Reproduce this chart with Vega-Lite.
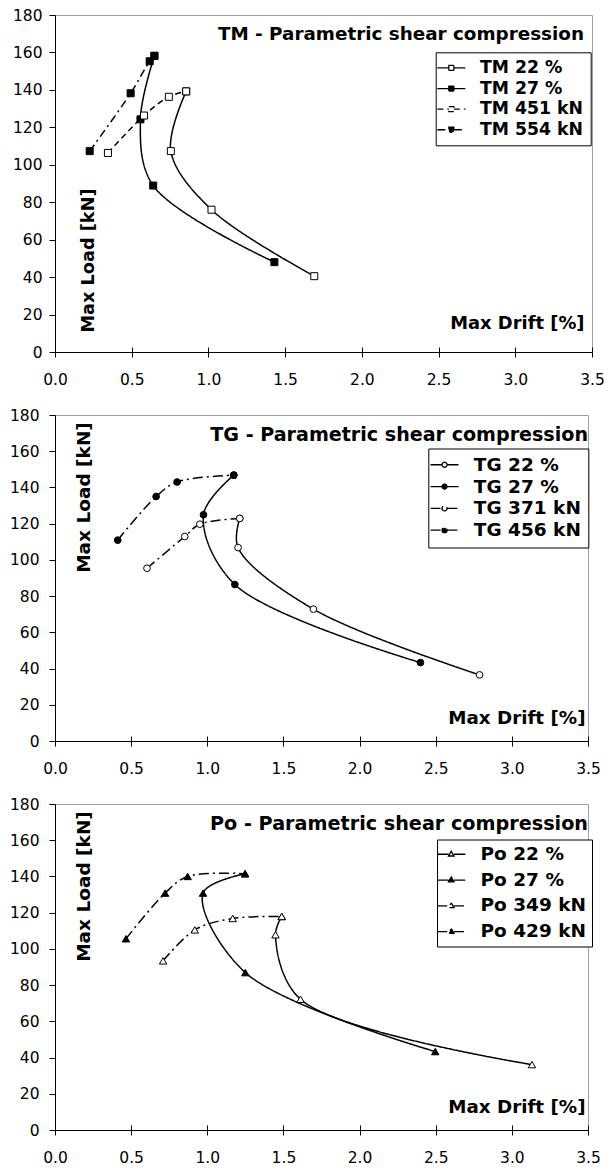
{
  "$schema": "https://vega.github.io/schema/vega-lite/v6.json",
  "background": "white",
  "padding": {"left": 8, "top": 7, "right": 5, "bottom": 5},
  "spacing": 18,
  "align": "none",
  "resolve": {
    "scale": {"fill": "independent", "strokeDash": "independent"},
    "legend": {"fill": "independent", "strokeDash": "independent"}
  },
  "config": {
    "font": "DejaVu Sans",
    "view": {"stroke": "#a0a0a0", "strokeWidth": 1},
    "axis": {
      "grid": false, "labelFont": "DejaVu Sans", "labelFontSize": 15.5, "labelColor": "black",
      "domainColor": "black", "tickColor": "black", "domainWidth": 1, "tickWidth": 1,
      "labelFlush": false, "labelOverlap": false,
      "titleFont": "DejaVu Sans", "titleFontWeight": "bold", "titleColor": "black"
    },
    "legend": {
      "labelFont": "DejaVu Sans", "labelFontWeight": "bold", "labelColor": "black", "labelLimit": 300,
      "strokeColor": "black", "fillColor": "white", "padding": 7,
      "symbolStrokeColor": "black", "symbolStrokeWidth": 1.3, "symbolSize": 100, "symbolOpacity": 1,
      "labelOffset": 20
    },
    "title": {"font": "DejaVu Sans", "fontWeight": "bold", "color": "black", "fontSize": 18}
  },
  "datasets": {
    "tm": [
      {"series": "TM 22 %", "i": 0, "drift": 1.69, "load": 40.5},
      {"series": "TM 22 %", "i": 1, "drift": 1.02, "load": 76},
      {"series": "TM 22 %", "i": 2, "drift": 0.755, "load": 107.3},
      {"series": "TM 22 %", "i": 3, "drift": 0.855, "load": 139.2},
      {"series": "TM 27 %", "i": 0, "drift": 1.43, "load": 48},
      {"series": "TM 27 %", "i": 1, "drift": 0.64, "load": 88.9},
      {"series": "TM 27 %", "i": 2, "drift": 0.557, "load": 124.3},
      {"series": "TM 27 %", "i": 3, "drift": 0.648, "load": 158.2},
      {"series": "TM 451 kN", "i": 0, "drift": 0.345, "load": 106.3},
      {"series": "TM 451 kN", "i": 1, "drift": 0.58, "load": 126.3},
      {"series": "TM 451 kN", "i": 2, "drift": 0.742, "load": 136.3},
      {"series": "TM 451 kN", "i": 3, "drift": 0.855, "load": 139.2},
      {"series": "TM 554 kN", "i": 0, "drift": 0.226, "load": 107.3},
      {"series": "TM 554 kN", "i": 1, "drift": 0.493, "load": 138.2},
      {"series": "TM 554 kN", "i": 2, "drift": 0.617, "load": 155.3},
      {"series": "TM 554 kN", "i": 3, "drift": 0.648, "load": 158.2}
    ],
    "tg": [
      {"series": "TG 22 %", "i": 0, "drift": 2.788, "load": 36.5},
      {"series": "TG 22 %", "i": 1, "drift": 1.697, "load": 72.8},
      {"series": "TG 22 %", "i": 2, "drift": 1.202, "load": 106.8},
      {"series": "TG 22 %", "i": 3, "drift": 1.213, "load": 122.9},
      {"series": "TG 27 %", "i": 0, "drift": 2.4, "load": 43.3},
      {"series": "TG 27 %", "i": 1, "drift": 1.181, "load": 86.4},
      {"series": "TG 27 %", "i": 2, "drift": 0.975, "load": 124.9},
      {"series": "TG 27 %", "i": 3, "drift": 1.174, "load": 146.8},
      {"series": "TG 371 kN", "i": 0, "drift": 0.604, "load": 95.4},
      {"series": "TG 371 kN", "i": 1, "drift": 0.852, "load": 112.9},
      {"series": "TG 371 kN", "i": 2, "drift": 0.951, "load": 119.7},
      {"series": "TG 371 kN", "i": 3, "drift": 1.213, "load": 122.9},
      {"series": "TG 456 kN", "i": 0, "drift": 0.412, "load": 110.9},
      {"series": "TG 456 kN", "i": 1, "drift": 0.664, "load": 135.0},
      {"series": "TG 456 kN", "i": 2, "drift": 0.802, "load": 143.0},
      {"series": "TG 456 kN", "i": 3, "drift": 1.174, "load": 146.8}
    ],
    "po": [
      {"series": "Po 22 %", "i": 0, "drift": 3.132, "load": 36.1},
      {"series": "Po 22 %", "i": 1, "drift": 1.612, "load": 72.2},
      {"series": "Po 22 %", "i": 2, "drift": 1.448, "load": 107.8},
      {"series": "Po 22 %", "i": 3, "drift": 1.489, "load": 117.9},
      {"series": "Po 27 %", "i": 0, "drift": 2.497, "load": 43.3},
      {"series": "Po 27 %", "i": 1, "drift": 1.25, "load": 86.9},
      {"series": "Po 27 %", "i": 2, "drift": 0.972, "load": 130.8},
      {"series": "Po 27 %", "i": 3, "drift": 1.248, "load": 141.5},
      {"series": "Po 349 kN", "i": 0, "drift": 0.71, "load": 93.4},
      {"series": "Po 349 kN", "i": 1, "drift": 0.918, "load": 110.5},
      {"series": "Po 349 kN", "i": 2, "drift": 1.167, "load": 116.8},
      {"series": "Po 349 kN", "i": 3, "drift": 1.489, "load": 117.9},
      {"series": "Po 429 kN", "i": 0, "drift": 0.466, "load": 105.6},
      {"series": "Po 429 kN", "i": 1, "drift": 0.723, "load": 130.8},
      {"series": "Po 429 kN", "i": 2, "drift": 0.871, "load": 140.0},
      {"series": "Po 429 kN", "i": 3, "drift": 1.248, "load": 141.5}
    ]
  },
  "vconcat": [
    {
      "width": 537, "height": 337,
      "data": {"name": "tm"},
      "title": {"text": "TM - Parametric shear compression", "anchor": "end", "frame": "group", "offset": -36, "dx": -8, "fontSize": 18.35},
      "resolve": {"axis": {"x": "independent"}},
      "layer": [
        {
          "mark": {"type": "line", "interpolate": "catmull-rom", "color": "black", "strokeWidth": 1.5},
          "encoding": {
            "x": {"field": "drift", "type": "quantitative", "scale": {"domain": [0, 3.5], "nice": false},
              "axis": {"values": [0, 0.5, 1, 1.5, 2, 2.5, 3, 3.5], "tickCount": 20, "format": ".1f", "tickSize": 5, "labelPadding": 15.5, "labelOverlap": false,
                "title": "Max Drift [%]", "titleFontSize": 17.9, "titleX": 529, "titleY": -24, "titleAlign": "right", "titleAnchor": null, "titleBaseline": "alphabetic"}},
            "y": {"field": "load", "type": "quantitative", "scale": {"domain": [0, 180], "nice": false},
              "axis": {"values": [0, 20, 40, 60, 80, 100, 120, 140, 160, 180], "tickCount": 20, "tickSize": 6, "labelPadding": 7, "labelOverlap": false,
                "title": "Max Load [kN]", "titleFontSize": 17.7, "titleX": 33, "titleY": 245, "titleAngle": -90, "titleAlign": "center", "titleBaseline": "middle", "titleAnchor": null}},
            "strokeDash": {"field": "series", "type": "nominal",
              "scale": {"domain": ["TM 22 %", "TM 27 %", "TM 451 kN", "TM 554 kN"], "range": [[1, 0], [1, 0], [6, 4], [8, 4, 2, 4]]}},
            "order": {"field": "i", "type": "quantitative"}
          }
        },
        {
          "mark": {"type": "point", "shape": "square", "filled": true, "size": 49, "stroke": "black", "strokeWidth": 1, "opacity": 1},
          "encoding": {
            "x": {"field": "drift", "type": "quantitative",
              "axis": {"orient": "bottom", "values": [0, 0.5, 1, 1.5, 2, 2.5, 3, 3.5], "tickCount": 20, "tickSize": -5, "labels": false, "domain": false, "title": null}},
            "y": {"field": "load", "type": "quantitative"},
            "fill": {"field": "series", "type": "nominal",
              "scale": {"domain": ["TM 22 %", "TM 27 %", "TM 451 kN", "TM 554 kN"], "range": ["white", "black", "white", "black"]},
              "legend": {"title": null, "orient": "none", "legendX": 380.7, "legendY": 37.3,
                "symbolType": "M-2.8,0H-0.5M0.5,0H2.8M-0.5,-0.5H0.5V0.5H-0.5Z",
                "labelFontSize": 17.3, "rowPadding": 2.6}}
          }
        }
      ]
    },
    {
      "width": 533, "height": 326,
      "data": {"name": "tg"},
      "title": {"text": "TG - Parametric shear compression", "anchor": "end", "frame": "group", "offset": -37, "dx": 0, "fontSize": 19.1},
      "resolve": {"axis": {"x": "independent"}},
      "layer": [
        {
          "mark": {"type": "line", "interpolate": "catmull-rom", "color": "black", "strokeWidth": 1.5},
          "encoding": {
            "x": {"field": "drift", "type": "quantitative", "scale": {"domain": [0, 3.5], "nice": false},
              "axis": {"values": [0, 0.5, 1, 1.5, 2, 2.5, 3, 3.5], "tickCount": 20, "format": ".1f", "tickSize": 5, "labelPadding": 15.5, "labelOverlap": false,
                "title": "Max Drift [%]", "titleFontSize": 18.3, "titleX": 530, "titleY": -18, "titleAlign": "right", "titleAnchor": null, "titleBaseline": "alphabetic"}},
            "y": {"field": "load", "type": "quantitative", "scale": {"domain": [0, 180], "nice": false},
              "axis": {"values": [0, 20, 40, 60, 80, 100, 120, 140, 160, 180], "tickCount": 20, "tickSize": 6, "labelPadding": 10, "labelOverlap": false,
                "title": "Max Load [kN]", "titleFontSize": 18.5, "titleX": 28, "titleY": 82, "titleAngle": -90, "titleAlign": "center", "titleBaseline": "middle", "titleAnchor": null}},
            "strokeDash": {"field": "series", "type": "nominal",
              "scale": {"domain": ["TG 22 %", "TG 27 %", "TG 371 kN", "TG 456 kN"], "range": [[1, 0], [1, 0], [10, 4, 2, 4], [10, 4, 2, 4]]}},
            "order": {"field": "i", "type": "quantitative"}
          }
        },
        {
          "mark": {"type": "point", "shape": "circle", "filled": true, "size": 45, "stroke": "black", "strokeWidth": 1, "opacity": 1},
          "encoding": {
            "x": {"field": "drift", "type": "quantitative",
              "axis": {"orient": "bottom", "values": [0, 0.5, 1, 1.5, 2, 2.5, 3, 3.5], "tickCount": 20, "tickSize": -5, "labels": false, "domain": false, "title": null}},
            "y": {"field": "load", "type": "quantitative"},
            "fill": {"field": "series", "type": "nominal",
              "scale": {"domain": ["TG 22 %", "TG 27 %", "TG 371 kN", "TG 456 kN"], "range": ["white", "black", "white", "black"]},
              "legend": {"title": null, "orient": "none", "legendX": 373.3, "legendY": 33.5,
                "symbolType": "M-2.8,0H-0.55M0.55,0H2.8M0.5,0A0.5,0.5,0,1,1,-0.5,0A0.5,0.5,0,1,1,0.5,0Z",
                "labelFontSize": 18.5, "rowPadding": 2.8}}
          }
        }
      ]
    },
    {
      "width": 533, "height": 326,
      "data": {"name": "po"},
      "title": {"text": "Po - Parametric shear compression", "anchor": "end", "frame": "group", "offset": -37, "dx": 0, "fontSize": 19.2},
      "resolve": {"axis": {"x": "independent"}},
      "layer": [
        {
          "mark": {"type": "line", "interpolate": "catmull-rom", "color": "black", "strokeWidth": 1.5},
          "encoding": {
            "x": {"field": "drift", "type": "quantitative", "scale": {"domain": [0, 3.5], "nice": false},
              "axis": {"values": [0, 0.5, 1, 1.5, 2, 2.5, 3, 3.5], "tickCount": 20, "format": ".1f", "tickSize": 5, "labelPadding": 15.5, "labelOverlap": false,
                "title": "Max Drift [%]", "titleFontSize": 18.3, "titleX": 530, "titleY": -18, "titleAlign": "right", "titleAnchor": null, "titleBaseline": "alphabetic"}},
            "y": {"field": "load", "type": "quantitative", "scale": {"domain": [0, 180], "nice": false},
              "axis": {"values": [0, 20, 40, 60, 80, 100, 120, 140, 160, 180], "tickCount": 20, "tickSize": 6, "labelPadding": 10, "labelOverlap": false,
                "title": "Max Load [kN]", "titleFontSize": 18.5, "titleX": 28, "titleY": 82, "titleAngle": -90, "titleAlign": "center", "titleBaseline": "middle", "titleAnchor": null}},
            "strokeDash": {"field": "series", "type": "nominal",
              "scale": {"domain": ["Po 22 %", "Po 27 %", "Po 349 kN", "Po 429 kN"], "range": [[1, 0], [1, 0], [10, 4, 2, 4], [10, 4, 2, 4]]}},
            "order": {"field": "i", "type": "quantitative"}
          }
        },
        {
          "mark": {"type": "point", "shape": "triangle-up", "filled": true, "size": 55, "stroke": "black", "strokeWidth": 1, "opacity": 1},
          "encoding": {
            "x": {"field": "drift", "type": "quantitative",
              "axis": {"orient": "bottom", "values": [0, 0.5, 1, 1.5, 2, 2.5, 3, 3.5], "tickCount": 20, "tickSize": -5, "labels": false, "domain": false, "title": null}},
            "y": {"field": "load", "type": "quantitative"},
            "fill": {"field": "series", "type": "nominal",
              "scale": {"domain": ["Po 22 %", "Po 27 %", "Po 349 kN", "Po 429 kN"], "range": ["white", "black", "white", "black"]},
              "legend": {"title": null, "orient": "none", "legendX": 382, "legendY": 35.5, "padding": 5,
                "symbolType": "M-2.8,0.1H-0.55M0.55,0.1H2.8M0,-0.5L0.55,0.45L-0.55,0.45Z",
                "labelFontSize": 18.5, "rowPadding": 6.8}}
          }
        }
      ]
    }
  ]
}
